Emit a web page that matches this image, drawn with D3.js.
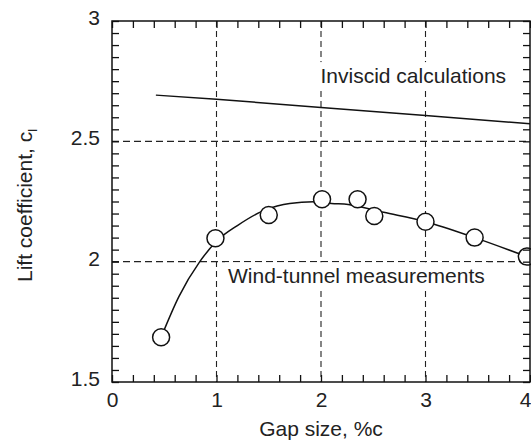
<!DOCTYPE html>
<html>
<head>
<meta charset="utf-8">
<script src="https://cdn.jsdelivr.net/npm/d3@7"></script>
<style>
  body { margin: 0; background: #fff; }
  svg { display: block; font-family: 'Liberation Sans', Arial, sans-serif; }
</style>
</head>
<body>
<svg class="main-svg"></svg>
<script>
// wind-tunnel measurements (circles)
var measGap = [0.47, 0.99, 1.50, 2.01, 2.35, 2.51, 3.00, 3.47, 3.97];
var measCl  = [1.686, 2.097, 2.194, 2.259, 2.259, 2.19, 2.166, 2.10, 2.021];

// faired curve through the measurements
var fitGap = [0.47, 0.64, 0.84, 1.0, 1.2, 1.43, 1.58, 1.7, 1.93, 2.1, 2.26, 2.6, 3.0, 3.47, 3.97];
var fitCl  = [1.686, 1.855, 2.0, 2.085, 2.15, 2.208, 2.231, 2.242, 2.249, 2.242, 2.238, 2.205, 2.166, 2.10, 2.021];

// inviscid calculations (line)
var invGap = [0.42, 1, 2, 3, 4];
var invCl  = [2.692, 2.675, 2.641, 2.607, 2.573];

var xGrid = [1, 2, 3],
    yGrid = [2, 2.5],
    xMajor = [0, 1, 2, 3, 4],
    yMajor = [1.5, 2, 2.5, 3];

// note: "top" is taken by window.top, so plot edges get a prefix
var width = 531, height = 441,
    plotL = 112, plotR = 530, plotT = 21, plotB = 382,
    fontSize = 21,
    tickLen = 7;

var d3 = window.d3;

var svg = d3.select('.main-svg')
      .attr('width', width)
      .attr('height', height);

var x = d3.scaleLinear().domain([0, 4]).range([plotL, plotR]);
var y = d3.scaleLinear().domain([1.5, 3]).range([plotB, plotT]);

var xMinor = d3.range(0, 21).map(i => i / 5),
    yMinor = d3.range(0, 31).map(i => 1.5 + i / 20);

function isMajor(list, v) {
  return list.some(m => Math.abs(m - v) < 1e-6);
}

// dashed grid
svg.append('g')
  .selectAll('line')
  .data(xGrid)
  .enter()
  .append('line')
  .attr('x1', d => x(d)).attr('x2', d => x(d))
  .attr('y1', plotT).attr('y2', plotB)
  .attr('stroke', '#222')
  .attr('stroke-width', 1.1)
  .attr('stroke-dasharray', '6,4');

svg.append('g')
  .selectAll('line')
  .data(yGrid)
  .enter()
  .append('line')
  .attr('x1', plotL).attr('x2', plotR)
  .attr('y1', d => y(d)).attr('y2', d => y(d))
  .attr('stroke', '#222')
  .attr('stroke-width', 1.1)
  .attr('stroke-dasharray', '7,4');

// text labels inside the plot, with white backing over the grid
function boxedLabel(txt, gx, gy) {
  var g = svg.append('g');
  var t = g.append('text')
        .attr('x', x(gx))
        .attr('y', y(gy))
        .attr('font-size', fontSize)
        .attr('fill', '#222')
        .text(txt);
  var b = t.node().getBBox();
  g.insert('rect', 'text')
    .attr('x', b.x - 3).attr('y', b.y - 2)
    .attr('width', b.width + 6).attr('height', b.height + 4)
    .attr('fill', '#fff');
}
boxedLabel('Inviscid calculations', 1.995, 2.742);
boxedLabel('Wind-tunnel measurements', 1.11, 1.91);

// inviscid line
svg.append('path')
  .datum(d3.zip(invGap, invCl))
  .attr('fill', 'none')
  .attr('stroke', '#111')
  .attr('stroke-width', 1.5)
  .attr('d', d3.line().x(d => x(d[0])).y(d => y(d[1])));

// faired measurement curve
svg.append('path')
  .datum(d3.zip(fitGap, fitCl))
  .attr('fill', 'none')
  .attr('stroke', '#111')
  .attr('stroke-width', 1.5)
  .attr('d', d3.line().curve(d3.curveMonotoneX).x(d => x(d[0])).y(d => y(d[1])));

// measurement circles
svg.append('g')
  .selectAll('circle')
  .data(d3.zip(measGap, measCl))
  .enter()
  .append('circle')
  .attr('cx', d => x(d[0]))
  .attr('cy', d => y(d[1]))
  .attr('r', 8.5)
  .attr('fill', '#fff')
  .attr('stroke', '#111')
  .attr('stroke-width', 1.5);

// axes, ticks pointing inwards on all four sides
var axisB = d3.axisBottom(x)
      .tickValues(xMinor)
      .tickSizeInner(-tickLen).tickSizeOuter(0)
      .tickPadding(10)
      .tickFormat(d => isMajor(xMajor, d) ? d3.format('d')(d) : '');
var axisT = d3.axisTop(x)
      .tickValues(xMinor)
      .tickSizeInner(-tickLen).tickSizeOuter(0)
      .tickFormat('');
var axisL = d3.axisLeft(y)
      .tickValues(yMinor)
      .tickSizeInner(-tickLen).tickSizeOuter(0)
      .tickPadding(12)
      .tickFormat(d => isMajor(yMajor, d) ? d3.format('~g')(Math.round(d * 100) / 100) : '');
var axisR = d3.axisRight(y)
      .tickValues(yMinor)
      .tickSizeInner(-tickLen).tickSizeOuter(0)
      .tickFormat('');

var gB = svg.append('g').attr('transform', 'translate(0,' + plotB + ')').call(axisB);
var gT = svg.append('g').attr('transform', 'translate(0,' + plotT + ')').call(axisT);
var gL = svg.append('g').attr('transform', 'translate(' + plotL + ',0)').call(axisL);
var gR = svg.append('g').attr('transform', 'translate(' + plotR + ',0)').call(axisR);

[gB, gT, gL, gR].forEach(g => {
  g.select('.domain').remove();
  g.selectAll('.tick line').attr('stroke', '#111').attr('stroke-width', 1.3);
  g.selectAll('.tick text')
    .attr('font-size', fontSize)
    .attr('font-family', "'Liberation Sans', Arial, sans-serif")
    .attr('fill', '#222');
});
gL.selectAll('.tick text').attr('dy', '3.4px');
// last x label would run off the page
gB.selectAll('.tick text').filter(d => d === 4).attr('text-anchor', 'end').attr('dx', '1px');

// frame
svg.append('rect')
  .attr('x', plotL).attr('y', plotT)
  .attr('width', plotR - plotL).attr('height', plotB - plotT)
  .attr('fill', 'none')
  .attr('stroke', '#111')
  .attr('stroke-width', 1.5);

// axis titles
svg.append('text')
  .attr('x', (plotL + plotR) / 2)
  .attr('y', 436)
  .attr('text-anchor', 'middle')
  .attr('font-size', fontSize)
  .attr('fill', '#222')
  .text('Gap size, %c');

var yt = svg.append('text')
      .attr('transform', 'translate(32,' + 282 + ') rotate(-90)')
      .attr('font-size', fontSize)
      .attr('fill', '#222');
yt.append('tspan').text('Lift coefficient, c');
yt.append('tspan')
  .attr('font-size', 13)
  .attr('dy', 5)
  .text('l');
</script>
</body>
</html>
